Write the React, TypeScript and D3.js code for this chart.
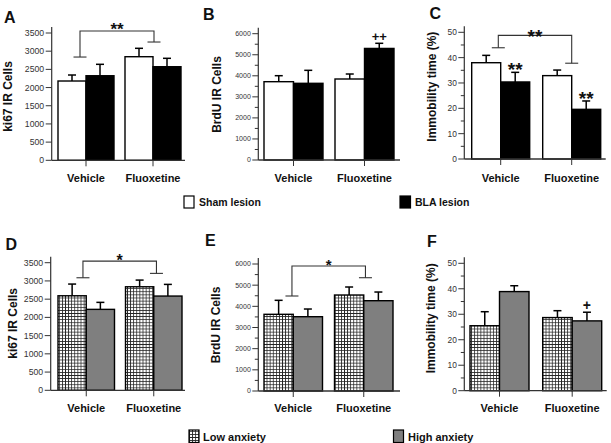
import React from "react";
import * as d3 from "d3";

const categories = ["Vehicle", "Fluoxetine"];
const lesionSeries = ["Sham lesion", "BLA lesion"];
const anxietySeries = ["Low anxiety", "High anxiety"];

// Panel A: ki67 IR cells, lesion
const ki67Sham = [2180, 2848];
const ki67ShamErr = [165, 231];
const ki67Bla = [2325, 2573];
const ki67BlaErr = [314, 231];
// Panel B: BrdU IR cells, lesion
const brduSham = [3720, 3848];
const brduShamErr = [285, 237];
const brduBla = [3643, 5300];
const brduBlaErr = [617, 244];
// Panel C: immobility, lesion
const immSham = [38.0, 32.9];
const immShamErr = [2.9, 2.2];
const immBla = [30.4, 19.6];
const immBlaErr = [3.8, 3.3];
// Panel D: ki67, anxiety
const ki67Low = [2593, 2840];
const ki67LowErr = [321, 183];
const ki67High = [2220, 2585];
const ki67HighErr = [192, 320];
// Panel E: BrdU, anxiety
const brduLow = [3623, 4535];
const brduLowErr = [661, 378];
const brduHigh = [3510, 4266];
const brduHighErr = [363, 410];
// Panel F: immobility, anxiety
const immLow = [25.5, 28.7];
const immLowErr = [5.5, 2.7];
const immHigh = [38.9, 27.4];
const immHighErr = [2.3, 3.4];

// per-bar significance marks
const brduBlaMarks = ["", "++"];
const immBlaMarks = ["**", "**"];
const immHighMarks = ["", "+"];

// group brackets: [horizontal level, left end, right end]
const bracketA = [3554, 2839, 3252];
const bracketC = [48.8, 43.9, 37.8];
const bracketD = [3544, 3087, 3207];
const bracketE = [5905, 4488, 5352];

const ki67Ticks = [0, 500, 1000, 1500, 2000, 2500, 3000, 3500];
const brduTicks = [0, 1000, 2000, 3000, 4000, 5000, 6000];
const brduMinor = [500, 1500, 2500, 3500, 4500, 5500];
const immTicks = [0, 10, 20, 30, 40, 50];
const immMinor = [5, 15, 25, 35, 45];

const FONT = "'Liberation Sans', Arial, Helvetica, sans-serif";
const INK = "#111";
const AXIS = "#333";
const GRAY = "#7f7f7f";

type Series = { vals: number[]; errs: number[]; fill: string; marks?: string[]; markFs?: number };
type Layout = {
  letter: string; letterX: number; letterY: number;
  axisX: number; axisEnd: number; y0: number; yTop: number;
  barL: number; barR: number; gap: number;
  tickFs: number; yLabel: string; yLabelX: number; yLabelY: number;
  xLabelY: number; brDx?: [number, number]; brFs?: number; brGap?: number;
};

function Panel({ L, series, ticks, minor, bracket, bracketLabel }: {
  L: Layout; series: Series[]; ticks: number[]; minor?: number[];
  bracket?: number[]; bracketLabel?: string;
}) {
  const maxTick = ticks[ticks.length - 1];
  const y = d3.scaleLinear().domain([0, maxTick]).range([L.y0, L.yTop]);
  const totalW = L.barR - L.barL;
  const step = (totalW + L.gap) / categories.length;
  const x = d3.scaleBand().domain(categories).range([L.barL, L.barR]).paddingInner(L.gap / step).paddingOuter(0);
  const xs = d3.scaleBand().domain(series.map((_, i) => String(i))).range([0, x.bandwidth()]).padding(0);
  const cx = (c: string) => (x(c) as number) + x.bandwidth() / 2;

  return (
    <g>
      <text x={L.letterX} y={L.letterY} fontFamily={FONT} fontWeight="bold" fontSize={16} fill={INK}>{L.letter}</text>
      {series.map((s, si) =>
        categories.map((c, ci) => {
          const bx = (x(c) as number) + (xs(String(si)) as number);
          const bw = xs.bandwidth();
          const top = y(s.vals[ci]);
          const et = y(s.vals[ci] + s.errs[ci]);
          const mx = bx + bw / 2;
          return (
            <g key={`${si}-${ci}`}>
              <line x1={mx} x2={mx} y1={top} y2={et} stroke="#000" strokeWidth={1.5} />
              <line x1={mx - 4} x2={mx + 4} y1={et} y2={et} stroke="#000" strokeWidth={1.5} />
              <rect x={bx} y={top} width={bw} height={L.y0 - top} fill={s.fill} stroke="#000" strokeWidth={1.4} />
              {s.marks && s.marks[ci] ? (
                <text x={mx} y={et - 7 + (s.marks[ci].includes("*") ? 0.58 : 0.36) * (s.markFs || 14)} textAnchor="middle"
                  fontFamily={FONT} fontWeight="bold" fontSize={s.markFs || 14} fill={INK}>{s.marks[ci]}</text>
              ) : null}
            </g>
          );
        })
      )}
      <line x1={L.axisX} x2={L.axisX} y1={L.y0} y2={L.yTop - 6} stroke={AXIS} strokeWidth={1.2} />
      {ticks.map((t) => (
        <g key={t}>
          <line x1={L.axisX - 6} x2={L.axisX} y1={y(t)} y2={y(t)} stroke={AXIS} strokeWidth={1} />
          <text x={L.axisX - 7.5} y={y(t) + L.tickFs * 0.35} textAnchor="end" fontFamily={FONT} fontSize={L.tickFs} fill="#333">{t}</text>
        </g>
      ))}
      {(minor || []).map((t) => (
        <line key={`m${t}`} x1={L.axisX - 3.5} x2={L.axisX} y1={y(t)} y2={y(t)} stroke={AXIS} strokeWidth={1} />
      ))}
      <line x1={L.axisX} x2={L.axisEnd} y1={L.y0} y2={L.y0} stroke={AXIS} strokeWidth={1.3} />
      {categories.map((c) => (
        <g key={c}>
          <line x1={cx(c)} x2={cx(c)} y1={L.y0} y2={L.y0 + 6} stroke={AXIS} strokeWidth={1} />
          <text x={cx(c)} y={L.xLabelY} textAnchor="middle" fontFamily={FONT} fontWeight="bold" fontSize={11} fill={INK}>{c}</text>
        </g>
      ))}
      <text transform={`translate(${L.yLabelX},${L.yLabelY}) rotate(-90)`} textAnchor="middle" fontFamily={FONT}
        fontWeight="bold" fontSize={12} fill={INK}>{L.yLabel}</text>
      {bracket ? (() => {
        const lx = cx(categories[0]) + (L.brDx ? L.brDx[0] : 0);
        const rx = cx(categories[1]) + (L.brDx ? L.brDx[1] : 0);
        const hy = y(bracket[0]);
        const ly = y(bracket[1]);
        const ry = y(bracket[2]);
        const fs = L.brFs || 16;
        return (
          <g stroke={AXIS} strokeWidth={1.1} fill="none">
            <path d={`M${lx},${ly}V${hy}H${rx}V${ry}`} />
            <line x1={lx - 6.5} x2={lx + 6.5} y1={ly} y2={ly} />
            <line x1={rx - 6.5} x2={rx + 6.5} y1={ry} y2={ry} />
            <text x={(lx + rx) / 2} y={hy - (L.brGap || 5) + 0.58 * fs} textAnchor="middle" stroke="none" fill={INK}
              fontFamily={FONT} fontWeight="bold" fontSize={fs}>{bracketLabel}</text>
          </g>
        );
      })() : null}
    </g>
  );
}

export default function App() {
  const hatch = "url(#grid)";
  const A: Layout = { letter: "A", letterX: 4, letterY: 22.5, axisX: 51.7, axisEnd: 185, y0: 160.3, yTop: 33,
    barL: 58, barR: 181, gap: 11, tickFs: 8.7, yLabel: "ki67 IR Cells", yLabelX: 11.5, yLabelY: 96.5,
    xLabelY: 181.5, brDx: [-6, 1], brFs: 17, brGap: 5.5 };
  const B: Layout = { letter: "B", letterX: 203, letterY: 19.5, axisX: 258.3, axisEnd: 400, y0: 160, yTop: 33.7,
    barL: 264, barR: 394, gap: 12, tickFs: 7, yLabel: "BrdU IR Cells", yLabelX: 221, yLabelY: 94.5, xLabelY: 181.5 };
  const C: Layout = { letter: "C", letterX: 429.5, letterY: 18.5, axisX: 464.3, axisEnd: 605.7, y0: 159, yTop: 32.3,
    barL: 471.7, barR: 600.7, gap: 13, tickFs: 8.4, yLabel: "Immobility time (%)", yLabelX: 435.5, yLabelY: 86.7,
    xLabelY: 181.5, brDx: [-2.4, 0], brFs: 19, brGap: 3.5 };
  const D: Layout = { letter: "D", letterX: 5.5, letterY: 250, axisX: 50.7, axisEnd: 185, y0: 390.3, yTop: 262.7,
    barL: 58, barR: 182, gap: 11, tickFs: 8.7, yLabel: "ki67 IR Cells", yLabelX: 17, yLabelY: 323.3,
    xLabelY: 412.3, brDx: [-3.3, 2.7], brFs: 16, brGap: 4 };
  const E: Layout = { letter: "E", letterX: 205, letterY: 246, axisX: 258.3, axisEnd: 400, y0: 391, yTop: 264,
    barL: 264, barR: 393, gap: 12, tickFs: 7, yLabel: "BrdU IR Cells", yLabelX: 220, yLabelY: 325,
    xLabelY: 412.3, brDx: [-1.3, 1.7], brFs: 15, brGap: 5 };
  const F: Layout = { letter: "F", letterX: 427, letterY: 247, axisX: 464.3, axisEnd: 606.7, y0: 390.7, yTop: 263.3,
    barL: 470, barR: 601.7, gap: 13.7, tickFs: 8.4, yLabel: "Immobility time (%)", yLabelX: 435, yLabelY: 318.3,
    xLabelY: 412.3 };

  return (
    <svg width={611} height={443} style={{ position: "absolute", left: 0, top: 0, background: "#fff" }}>
      <defs>
        <pattern id="grid" width={3.1} height={3.1} patternUnits="userSpaceOnUse">
          <rect width={3.1} height={3.1} fill="#fff" />
          <path d="M0,0.4H3.1M0.4,0V3.1" stroke="#222" strokeWidth={0.8} />
        </pattern>
      </defs>
      <rect width={611} height={443} fill="#fff" />
      <Panel L={A} ticks={ki67Ticks} bracket={bracketA} bracketLabel="**" series={[
        { vals: ki67Sham, errs: ki67ShamErr, fill: "#fff" },
        { vals: ki67Bla, errs: ki67BlaErr, fill: "#000" },
      ]} />
      <Panel L={B} ticks={brduTicks} minor={brduMinor} series={[
        { vals: brduSham, errs: brduShamErr, fill: "#fff" },
        { vals: brduBla, errs: brduBlaErr, fill: "#000", marks: brduBlaMarks, markFs: 13 },
      ]} />
      <Panel L={C} ticks={immTicks} minor={immMinor} bracket={bracketC} bracketLabel="**" series={[
        { vals: immSham, errs: immShamErr, fill: "#fff" },
        { vals: immBla, errs: immBlaErr, fill: "#000", marks: immBlaMarks, markFs: 19 },
      ]} />
      <Panel L={D} ticks={ki67Ticks} bracket={bracketD} bracketLabel="*" series={[
        { vals: ki67Low, errs: ki67LowErr, fill: hatch },
        { vals: ki67High, errs: ki67HighErr, fill: GRAY },
      ]} />
      <Panel L={E} ticks={brduTicks} minor={brduMinor} bracket={bracketE} bracketLabel="*" series={[
        { vals: brduLow, errs: brduLowErr, fill: hatch },
        { vals: brduHigh, errs: brduHighErr, fill: GRAY },
      ]} />
      <Panel L={F} ticks={immTicks} minor={immMinor} series={[
        { vals: immLow, errs: immLowErr, fill: hatch },
        { vals: immHigh, errs: immHighErr, fill: GRAY, marks: immHighMarks, markFs: 14 },
      ]} />
      <g fontFamily={FONT} fontWeight="bold" fill={INK}>
        <rect x={184} y={196} width={10} height={12} fill="#fff" stroke="#000" strokeWidth={1.2} />
        <text x={199} y={205.5} fontSize={10.5}>{lesionSeries[0]}</text>
        <rect x={400} y={196} width={10.5} height={12} fill="#000" stroke="#000" strokeWidth={1.2} />
        <text x={415} y={205.5} fontSize={10.5}>{lesionSeries[1]}</text>
        <rect x={189} y={430} width={10} height={12.5} fill={hatch} stroke="#000" strokeWidth={1.2} />
        <text x={203} y={441} fontSize={11}>{anxietySeries[0]}</text>
        <rect x={393.5} y={430} width={10} height={12.5} fill={GRAY} stroke="#000" strokeWidth={1.2} />
        <text x={408} y={441} fontSize={11}>{anxietySeries[1]}</text>
      </g>
    </svg>
  );
}
